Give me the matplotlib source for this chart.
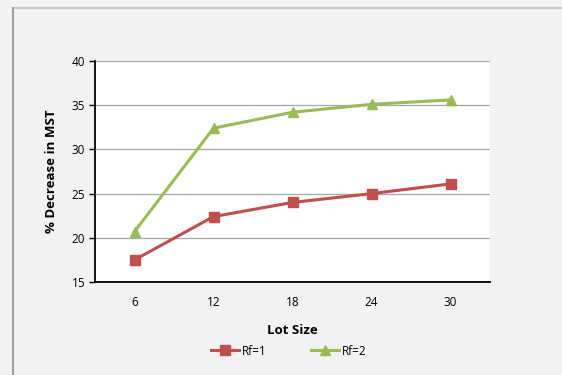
import matplotlib.pyplot as plt
from matplotlib.lines import Line2D

# data
lot_sizes = ['6', '12', '18', '24', '30']
rf1 = [17.5, 22.4, 24.0, 25.0, 26.1]
rf2 = [20.7, 32.4, 34.2, 35.1, 35.6]

plt.rcParams['font.family'] = ['Open Sans', 'DejaVu Sans']

fig = plt.figure(figsize=(5.62, 3.75), dpi=100, facecolor='#f2f2f2')
ax = fig.add_axes([95 / 562, 1 - 282 / 375, 395 / 562, 221 / 375])
ax.set_facecolor('white')

x = list(range(len(lot_sizes)))
ax.plot(x, rf1, color='#c0504d', lw=2.2, marker='s', ms=7, label='Rf=1')
ax.plot(x, rf2, color='#9bbb59', lw=2.2, marker='^', ms=7, label='Rf=2')

ax.set_xlim(-0.5, len(lot_sizes) - 0.5)
ax.set_ylim(15, 40)
ax.set_yticks([15, 20, 25, 30, 35, 40])
ax.set_xticks(x)
ax.set_xticklabels(lot_sizes)
ax.grid(axis='y', color='#a6a6a6', lw=0.9)
ax.set_axisbelow(True)

for s in ['top', 'right']:
    ax.spines[s].set_visible(False)
for s in ['left', 'bottom']:
    ax.spines[s].set_linewidth(1.3)
ax.tick_params(axis='y', length=4, width=1, labelsize=8.5, pad=3)
ax.tick_params(axis='x', length=0, labelsize=8.5, pad=10)

ax.set_xlabel('Lot Size', fontsize=9.5, fontweight='bold', labelpad=11)
ax.set_ylabel('% Decrease in MST', fontsize=9.5, fontweight='bold', labelpad=10)

ax.legend(loc='upper center', bbox_to_anchor=(0.49, -0.235), ncol=2, frameon=False,
          fontsize=8.5, handlelength=2.4, columnspacing=3.8, handletextpad=0.2)

# outer chart border (top and left edges visible)
fig.add_artist(Line2D([13 / 562, 1], [1 - 8 / 375, 1 - 8 / 375], color='#c8c8c8', lw=1.5))
fig.add_artist(Line2D([13 / 562, 13 / 562], [0, 1 - 8 / 375], color='#a0a0a0', lw=1.5))

fig.savefig('out.png', dpi=100, facecolor=fig.get_facecolor())
